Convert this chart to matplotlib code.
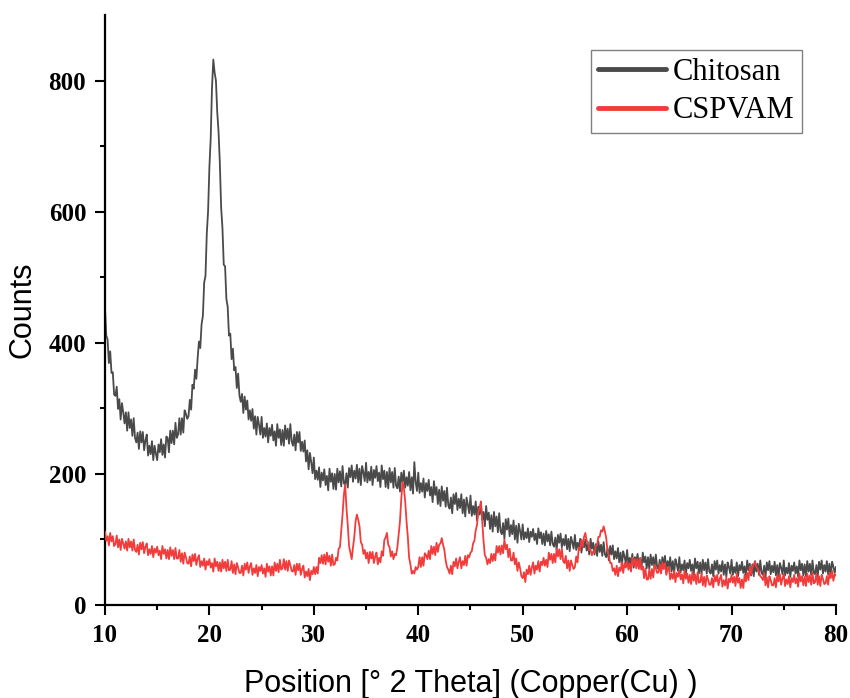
import numpy as np
import matplotlib
matplotlib.use("Agg")
import matplotlib.pyplot as plt

# scan grid: 10 -> 80 deg 2theta, step 0.125 (8 readings per degree)
two_theta_start = 10.0
two_theta_stop = 80.0
two_theta_step = 0.125

chitosan = [
    454, 411, 405, 369, 387, 354, 355, 321,   # 10
    319, 333, 299, 314, 283, 308, 294, 277,   # 11
    294, 266, 294, 270, 283, 258, 285, 255,   # 12
    248, 263, 238, 265, 248, 264, 236, 251,   # 13
    260, 228, 243, 230, 250, 221, 243, 231,   # 14
    221, 245, 233, 253, 229, 245, 225, 257,   # 15
    255, 233, 266, 247, 266, 245, 278, 255,   # 16
    260, 285, 260, 285, 263, 297, 292, 284,   # 17
    288, 313, 298, 336, 330, 359, 345, 377,   # 18
    402, 392, 428, 441, 492, 502, 567, 601,   # 19
    668, 712, 790, 832, 812, 800, 752, 722,   # 20
    674, 606, 575, 519, 517, 467, 455, 411,   # 21
    414, 375, 391, 358, 363, 331, 353, 320,   # 22
    310, 322, 293, 318, 298, 312, 283, 297,   # 23
    281, 299, 269, 288, 260, 287, 275, 260,   # 24
    287, 255, 270, 257, 277, 248, 270, 258,   # 25
    275, 251, 265, 243, 276, 255, 268, 244,   # 26
    267, 243, 274, 253, 269, 246, 276, 250,   # 27
    243, 260, 236, 264, 248, 264, 235, 249,   # 28
    234, 251, 219, 236, 207, 232, 218, 201,   # 29
    225, 192, 205, 191, 210, 180, 202, 190,   # 30
    207, 183, 197, 175, 208, 188, 201, 177,   # 31
    200, 176, 208, 187, 204, 181, 212, 186,   # 32
    183, 201, 179, 209, 195, 213, 188, 205,   # 33
    193, 214, 187, 208, 183, 212, 202, 189,   # 34
    217, 187, 203, 190, 211, 183, 206, 194,   # 35
    212, 189, 202, 180, 213, 192, 205, 180,   # 36
    203, 178, 209, 187, 203, 179, 209, 182,   # 37
    178, 196, 173, 202, 187, 205, 179, 195,   # 38
    182, 203, 175, 195, 170, 218, 188, 174,   # 39
    202, 171, 186, 173, 193, 164, 186, 174,   # 40
    191, 167, 180, 157, 189, 168, 180, 154,   # 41
    176, 151, 181, 159, 174, 150, 179, 152,   # 42
    147, 164, 140, 169, 154, 171, 145, 162,   # 43
    148, 169, 140, 161, 135, 164, 153, 140,   # 44
    167, 136, 151, 138, 158, 129, 150, 138,   # 45
    154, 130, 142, 120, 151, 130, 141, 116,   # 46
    137, 112, 142, 120, 135, 111, 140, 113,   # 47
    108, 125, 101, 131, 115, 132, 105, 122,   # 48
    108, 129, 100, 121, 95, 124, 113, 100,    # 49
    123, 100, 111, 102, 117, 96, 112, 104,    # 50
    116, 99, 109, 93, 117, 102, 111, 93,      # 51
    109, 91, 113, 97, 108, 91, 112, 93,       # 52
    89, 103, 84, 107, 95, 109, 88, 101,       # 53
    91, 107, 85, 101, 82, 104, 96, 86,        # 54
    107, 84, 95, 86, 101, 80, 96, 88,         # 55
    100, 83, 93, 77, 101, 86, 95, 77,         # 56
    93, 75, 97, 81, 92, 75, 96, 77,           # 57
    73, 87, 68, 90, 77, 91, 70, 82,           # 58
    71, 87, 65, 80, 60, 82, 74, 64,           # 59
    84, 61, 72, 63, 78, 57, 73, 65,           # 60
    78, 61, 71, 55, 80, 65, 74, 56,           # 61
    73, 55, 77, 61, 73, 56, 77, 58,           # 62
    55, 69, 50, 73, 61, 75, 54, 67,           # 63
    57, 73, 51, 67, 48, 70, 62, 52,           # 64
    73, 50, 62, 53, 68, 47, 64, 56,           # 65
    69, 52, 62, 46, 71, 56, 66, 48,           # 66
    65, 47, 69, 53, 65, 48, 70, 51,           # 67
    48, 62, 44, 67, 54, 68, 48, 61,           # 68
    51, 67, 46, 62, 43, 65, 58, 48,           # 69
    69, 46, 58, 49, 65, 44, 61, 53,           # 70
    66, 49, 59, 43, 68, 53, 63, 45,           # 71
    62, 44, 67, 51, 63, 46, 68, 49,           # 72
    46, 60, 42, 65, 53, 67, 47, 60,           # 73
    50, 66, 45, 61, 42, 64, 57, 47,           # 74
    68, 45, 57, 48, 64, 43, 60, 52,           # 75
    65, 48, 59, 43, 68, 53, 63, 45,           # 76
    62, 44, 67, 51, 63, 46, 68, 49,           # 77
    47, 61, 43, 66, 54, 68, 48, 61,           # 78
    51, 67, 46, 63, 44, 66, 59, 49,           # 79
    58,                                       # 80
]

cspvam = [
    112, 98, 105, 91, 110, 97, 105, 90,       # 10
    93, 106, 88, 100, 84, 101, 94, 86,        # 11
    97, 83, 101, 88, 97, 83, 100, 84,         # 12
    81, 92, 77, 95, 85, 96, 79, 89,           # 13
    94, 76, 85, 78, 90, 73, 86, 80,           # 14
    89, 76, 83, 70, 90, 78, 85, 71,           # 15
    84, 70, 88, 75, 84, 70, 87, 71,           # 16
    71, 84, 66, 79, 63, 80, 73, 64,           # 17
    63, 74, 59, 77, 67, 78, 61, 71,           # 18
    76, 58, 67, 60, 71, 54, 67, 61,           # 19
    70, 57, 64, 51, 71, 59, 66, 52,           # 20
    65, 51, 69, 56, 66, 52, 69, 53,           # 21
    54, 67, 49, 62, 47, 64, 57, 49,           # 22
    49, 60, 45, 63, 54, 65, 49, 59,           # 23
    64, 46, 56, 49, 61, 44, 58, 52,           # 24
    61, 48, 56, 43, 63, 51, 59, 45,           # 25
    59, 45, 65, 52, 63, 50, 69, 54,           # 26
    56, 70, 54, 67, 52, 68, 61, 52,           # 27
    51, 61, 46, 63, 53, 63, 46, 55,           # 28
    60, 42, 51, 44, 55, 38, 52, 47,           # 29
    58, 47, 58, 48, 72, 64, 76, 63,           # 30
    77, 62, 80, 66, 75, 60, 77, 61,           # 31
    62, 72, 68, 86, 88, 112, 138, 168,        # 32
    184, 148, 122, 90, 80, 70, 88, 104,       # 33
    128, 138, 130, 120, 96, 92, 78, 84,       # 34
    71, 80, 64, 81, 71, 81, 64, 74,           # 35
    80, 62, 72, 65, 82, 75, 99, 103,          # 36
    110, 92, 88, 74, 82, 70, 78, 76,          # 37
    88, 108, 128, 162, 188, 178, 158, 128,    # 38
    104, 72, 62, 48, 52, 48, 58, 54,          # 39
    58, 73, 58, 73, 60, 79, 76, 70,           # 40
    83, 70, 90, 78, 89, 76, 95, 81,           # 41
    92, 94, 102, 92, 84, 68, 58, 54,          # 42
    48, 60, 47, 66, 59, 71, 56, 66,           # 43
    73, 56, 67, 61, 75, 60, 76, 73,           # 44
    80, 82, 94, 98, 114, 122, 142, 148,       # 45
    158, 128, 98, 76, 72, 62, 70, 64,         # 46
    78, 67, 78, 68, 90, 80, 90, 77,           # 47
    91, 79, 100, 85, 92, 73, 86, 68,          # 48
    68, 80, 62, 71, 52, 65, 56, 44,           # 49
    41, 50, 35, 54, 47, 60, 46, 57,           # 50
    65, 48, 60, 54, 67, 51, 66, 61,           # 51
    72, 60, 69, 58, 80, 69, 78, 64,           # 52
    78, 65, 86, 74, 85, 70, 86, 67,           # 53
    64, 75, 56, 68, 52, 68, 61, 55,           # 54
    58, 74, 65, 88, 84, 100, 89, 104,         # 55
    110, 98, 96, 84, 84, 76, 82, 80,          # 56
    90, 92, 104, 104, 114, 112, 120, 112,     # 57
    102, 82, 76, 64, 64, 52, 56, 46,          # 58
    60, 44, 57, 52, 65, 49, 64, 57,           # 59
    66, 54, 63, 51, 72, 61, 70, 56,           # 60
    70, 55, 72, 54, 59, 41, 56, 39,           # 61
    39, 54, 40, 55, 42, 61, 56, 49,           # 62
    50, 62, 48, 65, 55, 64, 46, 54,           # 63
    58, 39, 48, 40, 52, 35, 49, 43,           # 64
    53, 39, 47, 33, 53, 40, 48, 34,           # 65
    46, 32, 50, 37, 47, 32, 50, 34,           # 66
    35, 48, 30, 43, 28, 45, 39, 31,           # 67
    31, 41, 27, 45, 36, 46, 30, 40,           # 68
    46, 28, 38, 30, 42, 25, 40, 35,           # 69
    46, 34, 43, 29, 48, 34, 41, 26,           # 70
    39, 26, 46, 36, 49, 38, 59, 47,           # 71
    58, 62, 66, 58, 56, 50, 44, 42,           # 72
    38, 49, 30, 42, 27, 44, 38, 30,           # 73
    30, 41, 27, 45, 36, 47, 31, 41,           # 74
    47, 29, 39, 32, 44, 27, 41, 35,           # 75
    46, 33, 41, 28, 48, 36, 44, 30,           # 76
    43, 29, 48, 35, 45, 31, 49, 33,           # 77
    35, 48, 31, 44, 29, 46, 40, 32,           # 78
    33, 44, 31, 49, 41, 52, 37, 47,           # 79
    45,                                       # 80
]

series_names = ["Chitosan", "CSPVAM"]
x_ticks = [10, 20, 30, 40, 50, 60, 70, 80]
y_ticks = [0, 200, 400, 600, 800]

two_theta = np.arange(two_theta_start, two_theta_stop + two_theta_step / 2, two_theta_step)

fig = plt.figure(figsize=(8.5, 6.98), dpi=100)
ax = fig.add_axes([0.1235, 0.1332, 0.86, 0.8453])

ax.plot(two_theta, chitosan, color="#4a4a4a", lw=1.3, label=series_names[0], zorder=2)
ax.plot(two_theta, cspvam, color="#f23c3c", lw=1.3, label=series_names[1], zorder=3)

ax.set_xlim(10, 80)
ax.set_ylim(0, 900)
ax.set_xticks(x_ticks)
ax.set_yticks(y_ticks)
ax.set_xticks(np.arange(15, 80, 10), minor=True)
ax.set_yticks(np.arange(100, 900, 200), minor=True)

for s in ["top", "right"]:
    ax.spines[s].set_visible(False)
for s in ["left", "bottom"]:
    ax.spines[s].set_linewidth(1.6)

ax.tick_params(which="major", direction="out", length=7.5, width=1.5, pad=6, labelsize=18)
ax.tick_params(which="minor", direction="out", length=3.6, width=1.5)

for lab in ax.get_xticklabels() + ax.get_yticklabels():
    lab.set_fontfamily("Liberation Serif")
    lab.set_fontweight("bold")
    lab.set_fontsize(18)

ax.set_xlabel("Position [° 2 Theta] (Copper(Cu) )", family="Liberation Sans", fontsize=22, labelpad=16)
ax.set_ylabel("Counts", family="Liberation Sans", fontsize=22, labelpad=8)

leg = ax.legend(loc="upper right", bbox_to_anchor=(0.953, 0.9407), borderaxespad=0,
                prop={"family": "Liberation Serif", "size": 22},
                handlelength=2.2, handletextpad=0.22, labelspacing=0.32,
                borderpad=0.25, fancybox=False, framealpha=1, edgecolor="#808080")
leg.get_frame().set_linewidth(1.0)
for h in leg.get_lines():
    h.set_linewidth(3.5)
    h.set_solid_capstyle("round")

fig.savefig("out.png", dpi=100)
